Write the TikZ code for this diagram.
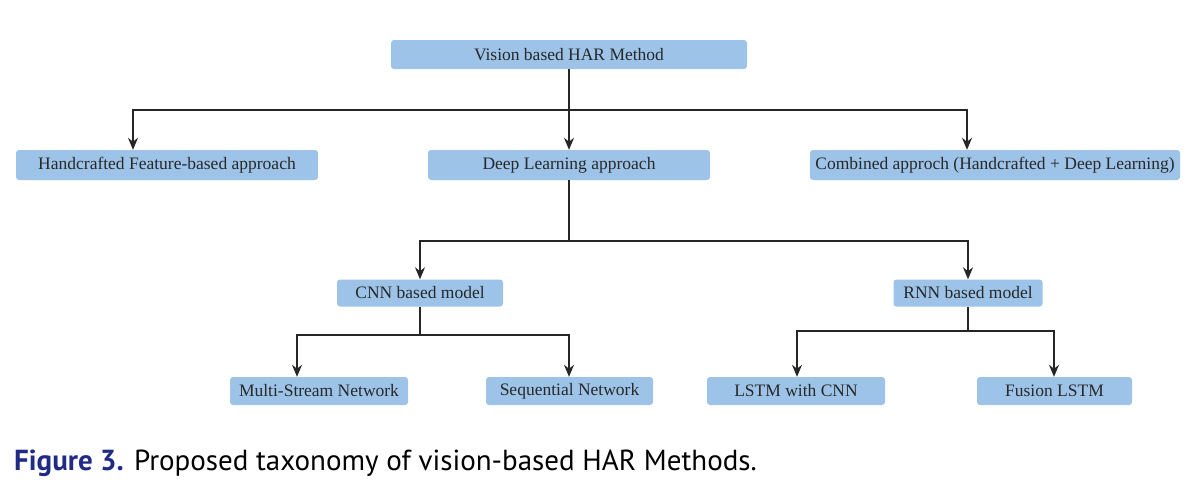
\documentclass[tikz,border=0pt]{standalone}
\usepackage{fontspec}
\setmainfont{Liberation Serif}
\newfontfamily\capfont{PT Sans}
\usetikzlibrary{arrows.meta}
\definecolor{boxblue}{RGB}{157,196,232}
\definecolor{boxtext}{RGB}{40,40,40}
\definecolor{capblue}{RGB}{32,42,135}
\tikzset{
  box/.style={fill=boxblue, rounded corners=3pt, inner sep=0pt, text=boxtext, font=\fontsize{17.5}{19}\selectfont, anchor=center},
  conn/.style={line width=1.4pt, draw=black!85},
  arr/.style={conn, -{Stealth[length=12pt,width=10pt]}}
}
\begin{document}
\begin{tikzpicture}[x=1pt,y=-1pt]
\useasboundingbox (0,0) rectangle (1188,485);
% boxes
\node[box, minimum width=356pt, minimum height=29pt] (vis) at (569,54.5) {Vision based HAR Method};
\node[box, minimum width=302pt, minimum height=30pt] (hand) at (167,165) {Handcrafted Feature-based approach};
\node[box, minimum width=282pt, minimum height=30pt] (deep) at (569,165) {Deep Learning approach};
\node[box, minimum width=370pt, minimum height=30pt] (comb) at (995,165) {Combined approch (Handcrafted + Deep Learning)};
\node[box, minimum width=166pt, minimum height=27pt] (cnn) at (420,293) {CNN based model};
\node[box, minimum width=149pt, minimum height=27pt] (rnn) at (968,293) {RNN based model};
\node[box, minimum width=178pt, minimum height=28pt] (ms) at (319,391) {Multi-Stream Network};
\node[box, minimum width=167pt, minimum height=28pt] (seq) at (569.5,391) {Sequential Network};
\node[box, minimum width=178pt, minimum height=28pt] (lstm) at (796,391) {LSTM with CNN};
\node[box, minimum width=155pt, minimum height=28pt] (fus) at (1054.5,391) {Fusion LSTM};
% junction coordinates
\coordinate (j1) at (569,110);
\coordinate (j2) at (569,241);
\coordinate (j3) at (420,335);
\coordinate (j4) at (968,331);
% connectors
\draw[conn] (vis.south) -- (j1);
\draw[arr] (j1) -| (hand.north -| 133,0);
\draw[arr] (j1) -- (deep.north);
\draw[arr] (j1) -| (comb.north -| 967,0);
\draw[conn] (deep.south) -- (j2);
\draw[arr] (j2) -| (cnn.north);
\draw[arr] (j2) -| (rnn.north);
\draw[conn] (cnn.south) -- (j3);
\draw[arr] (j3) -| (ms.north -| 297,0);
\draw[arr] (j3) -| (seq.north -| 569,0);
\draw[conn] (rnn.south) -- (j4);
\draw[arr] (j4) -| (lstm.north -| 797,0);
\draw[arr] (j4) -| (fus.north -| 1054,0);
% caption
\node[anchor=base west, inner sep=0pt, font=\capfont\fontsize{29}{32}\selectfont] (cap) at (14,470) {{\color{capblue}\bfseries Figure 3.} Proposed taxonomy of vision-based HAR Methods.};
\end{tikzpicture}
\end{document}
